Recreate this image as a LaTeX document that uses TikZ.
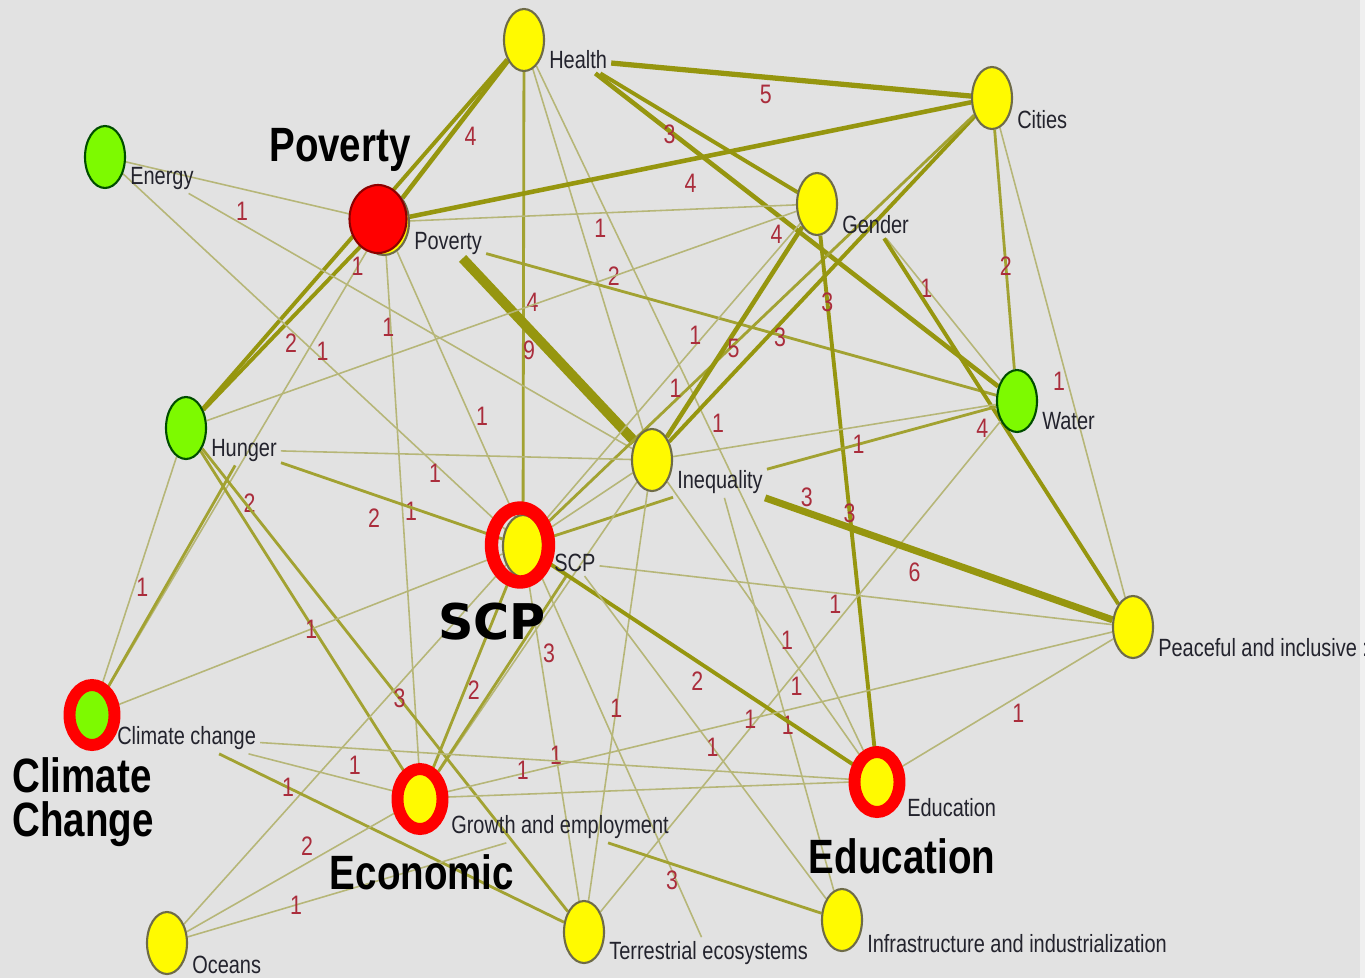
\documentclass[tikz,border=0pt]{standalone}
\usepackage{fontspec}
\setmainfont{Liberation Sans}
\newfontfamily\narrowsans[FakeStretch=0.8]{Liberation Sans}
\newfontfamily\widesans{DejaVu Sans}
\usetikzlibrary{shapes.geometric, positioning}

\definecolor{bgc}{RGB}{226,226,226}
\definecolor{stripc}{RGB}{240,240,240}
\definecolor{cyel}{RGB}{255,250,0}
\definecolor{cgrn}{RGB}{125,250,0}
\definecolor{numc}{RGB}{170,45,60}
\definecolor{tagc}{RGB}{35,35,45}
\definecolor{ethin}{RGB}{182,182,120}
\definecolor{emid}{RGB}{162,162,50}
\definecolor{ethick}{RGB}{150,150,15}

\newcommand{\sdglabelfont}{\narrowsans\fontsize{7.1pt}{8pt}\selectfont}
\newcommand{\sdgnumfont}{\narrowsans\fontsize{7.6pt}{8pt}\selectfont}
\newcommand{\sdgbigfont}{\narrowsans\bfseries\fontsize{13.7pt}{12.4pt}\selectfont}

\pgfdeclarelayer{bg}
\pgfsetlayers{bg,main}

\begin{document}
\begin{tikzpicture}
\tikzset{
  goal/.style={ellipse, draw=yellow!35!black, fill=cyel, line width=0.6pt,
    minimum width=0.40cm, minimum height=0.62cm, inner sep=0pt},
  goalg/.style={goal, draw=green!30!black, fill=cgrn},
  ring/.style={ellipse, draw=red, line width=3.4pt,
    minimum width=0.45cm, minimum height=0.60cm, inner sep=0pt},
  tag/.style={font=\sdglabelfont, text=tagc, inner sep=1pt, anchor=west},
  num/.style={font=\sdgnumfont, text=numc, inner sep=0.5pt},
  bigtag/.style={font=\sdgbigfont, text=black, inner sep=0pt, align=left},
  w1/.style={draw=ethin, line width=0.45pt},
  w2/.style={draw=emid, line width=0.8pt},
  w3/.style={draw=ethick, line width=1.1pt},
  w4/.style={draw=ethick, line width=1.3pt},
  w5/.style={draw=ethick, line width=1.5pt},
  w6/.style={draw=ethick, line width=2.0pt},
  w9/.style={draw=ethick, line width=2.8pt}
}
\useasboundingbox (0,0) rectangle (13.65,-9.78);

% goals
\node (He) [goal] at (5.24,-0.40) {};
\node (Ci) [goal] at (9.92,-0.98) {};
\node (En) [goalg] at (1.05,-1.57) {};
\node (Po) [goal, minimum width=0.50cm, minimum height=0.66cm] at (3.84,-2.22) {};
\node (Ge) [goal] at (8.17,-2.04) {};
\node (Wa) [goalg] at (10.17,-4.01) {};
\node (Hu) [goalg] at (1.86,-4.28) {};
\node (In) [goal] at (6.52,-4.60) {};
\node (SC) [goal] at (5.23,-5.46) {};
\node (Pe) [goal] at (11.33,-6.27) {};
\node (CC) [goalg] at (0.92,-7.15) {};
\node (GE) [goal] at (4.21,-7.98) {};
\node (Ed) [goal] at (8.78,-7.81) {};
\node (Oc) [goal] at (1.67,-9.43) {};
\node (Te) [goal] at (5.84,-9.32) {};
\node (IF) [goal] at (8.42,-9.20) {};

% names
\node (He-t) [tag] at ([yshift=-2.0mm]He.east) {Health};
\node (Ci-t) [tag] at ([yshift=-2.2mm]Ci.east) {Cities};
\node (En-t) [tag] at ([yshift=-2.1mm]En.east) {Energy};
\node (Po-t) [tag] at ([yshift=-2.1mm]Po.east) {Poverty};
\node (Ge-t) [tag] at ([yshift=-2.1mm]Ge.east) {Gender};
\node (Wa-t) [tag] at ([yshift=-2.0mm]Wa.east) {Water};
\node (Hu-t) [tag] at ([yshift=-2.2mm]Hu.east) {Hunger};
\node (In-t) [tag] at ([yshift=-2.2mm]In.east) {Inequality};
\node (SC-t) [tag] at ([shift={(0.06,-0.17)}]SC.east) {SCP};
\node (Pe-t) [tag] at ([yshift=-2.1mm]Pe.east) {Peaceful and inclusive :};
\node (CC-t) [tag] at ([yshift=-2.3mm]CC.east) {Climate change};
\node (GE-t) [tag] at ([shift={(0.05,-0.29)}]GE.east) {Growth and employment};
\node (Ed-t) [tag] at ([shift={(0.04,-0.27)}]Ed.east) {Education};
\node (Oc-t) [tag] at ([yshift=-2.2mm]Oc.east) {Oceans};
\node (Te-t) [tag] at ([yshift=-2.1mm]Te.east) {Terrestrial ecosystems};
\node (IF-t) [tag] at ([yshift=-2.4mm]IF.east) {Infrastructure and industrialization};

% marks
\node (Po-mark) [goal, fill=red, draw=red!55!black, minimum width=0.57cm, minimum height=0.68cm] at (3.78,-2.19) {};
\node (SC-ring) [ring, line width=3.8pt, minimum width=0.57cm, minimum height=0.74cm] at (5.20,-5.45) {};
\node (CC-ring) [ring] at (CC) {};
\node (GE-ring) [ring] at (4.20,-7.99) {};
\node (Ed-ring) [ring] at (8.77,-7.82) {};

\node (Po-big) [bigtag] at ([shift={(-0.38,0.69)}]Po-mark.center) {Poverty};
\node (SC-big) [bigtag, font=\widesans\bfseries\fontsize{14pt}{14pt}\selectfont] at ([shift={(-0.28,-0.77)}]SC-ring.center) {SCP};
\node (CC-big) [bigtag] at ([shift={(-0.09,-0.87)}]CC.center) {Climate\\Change};
\node (GE-big) [bigtag] at ([shift={(0.01,-0.74)}]GE.center) {Economic};
\node (Ed-big) [bigtag] at ([shift={(0.24,-0.75)}]Ed.center) {Education};

\begin{pgfonlayer}{bg}
\fill[bgc] (0,0) rectangle (13.65,-9.78);
\fill[stripc] (13.60,0) rectangle (13.65,-9.78);
% Health
\draw[w5] (He-t) -- node[num, pos=0.43, below=1pt] {5} (Ci);
\draw[w4] (He) -- node[num, pos=0.55, right=3pt] {4} (Po);
\draw[w3] (He) -- (Hu);
\draw[w2] (He) -- node[num, pos=0.52, right=0pt] {4} (SC);
\draw[w1] (He) -- node[num, pos=0.44, right=3pt] {1} (In);
\draw[w1] (He) -- (Ed);
\draw[w4] (He-t) -- node[num, pos=0.45, below=2pt] {4} (Wa);
\draw[w3] (He-t) -- node[num, pos=0.40, below left=0pt] {3} (Ge);
% Poverty
\draw[w4] (Po) -- node[num, pos=0.50, below=3pt] {4} (Ci);
\draw[w1] (Po) -- (Ge);
\draw[w9] (Po-t) -- node[num, pos=0.50, left=2pt] {9} (In);
\draw[w2] (Po-t) -- node[num, pos=0.25, above=0pt] {2} (Wa);
\draw[w3] (Po) -- node[num, pos=0.60, right=4pt] {2} (Hu);
\draw[w1] (Po) -- node[num, pos=0.50, right=0pt] {1} (GE);
\draw[w1] (Po) -- node[num, pos=0.24, right=1pt] {1} (Te-t);
\draw[w1] (Po) -- node[num, pos=0.04] {1} (CC);
% Energy
\draw[w1] (En) -- node[num, pos=0.50, below=3pt] {1} (Po);
\draw[w1] (En-t) -- node[num, pos=0.45, below=2pt] {1} (In);
\draw[w1] (En) -- node[num, pos=0.50, right=0pt] {1} (SC);
% Cities
\draw[w3] (Ci) -- node[num, pos=0.68, right=1pt] {3} (In);
\draw[w2] (Ci) -- node[num, pos=0.66, left=1pt] {1} (SC);
\draw[w2] (Ci) -- node[num, pos=0.57] {2} (Wa);
\draw[w1] (Ci) -- node[num, pos=0.54, left=0pt] {1} (Pe);
% Gender
\draw[w3] (Ge) -- node[num, pos=0.13] {3} node[num, pos=0.54] {3} (Ed);
\draw[w1] (Ge-t) -- node[num, pos=0.35] {1} (Wa);
\draw[w3] (Ge-t) -- node[num, pos=0.52, left=4pt] {4} (Pe);
\draw[w1] (Ge) -- (Hu);
\draw[w1] (Ge) -- node[num, pos=0.37, left=0pt] {1} (SC);
\draw[w4] (Ge) -- node[num, pos=0.58, right=0pt] {5} (In);
% Water, Inequality
\draw[w1] (In) -- node[num, pos=0.14, above=4pt] {1} (Wa);
\draw[w2] (In-t) -- node[num, pos=0.40] {1} (Wa);
\draw[w1] (Wa) -- node[num, pos=0.54, right=1pt] {1} (Te);
\draw[w6] (In-t) -- node[num, pos=0.12, above=0pt] {3} node[num, pos=0.43, below=2pt] {6} (Pe);
\draw[w2] (SC) -- (In-t);
\draw[w1] (SC) -- (In);
\draw[w1] (In) -- node[num, pos=0.57, right=0pt] {1} (Ed);
\draw[w1] (In-t) -- node[num, pos=0.58] {1} (IF);
\draw[w1] (In) -- node[num, pos=0.53] {1} (Te);
\draw[w1] (GE) -- (In);
% Hunger
\draw[w1] (Hu-t) -- node[num, pos=0.44, below=2pt] {1} (In);
\draw[w2] (Hu-t) -- node[num, pos=0.42, below=3pt] {2} (SC);
\draw[w1] (Hu) -- node[num, pos=0.57, right=0pt] {1} (CC);
\draw[w2] (Hu-t) -- (CC);
\draw[w2] (Hu) -- node[num, pos=0.16, right=2pt] {2} (GE);
\draw[w2] (Hu) -- node[num, pos=0.54] {3} (Te);
% SCP
\draw[w1] (CC) -- node[num, pos=0.51] {1} (SC);
\draw[w2] (SC) -- node[num, pos=0.59, right=0pt] {2} (GE);
\draw[w2] (SC-t) -- node[num, pos=0.39, right=7pt] {3} (GE);
\draw[w3] (SC) -- node[num, pos=0.52, below left=0pt] {2} (Ed);
\draw[w1] (SC-t) -- node[num, pos=0.46, below=0pt] {1} (Pe);
\draw[w1] (SC-t) -- node[num, pos=0.53] {1} (IF);
\draw[w1] (SC) -- node[num, pos=0.55] {1} (Te);
\draw[w1] (Oc) -- (SC);
% Peaceful, Education
\draw[w1] (GE) -- node[num, pos=0.46] {1} (Pe);
\draw[w1] (Ed) -- node[num, pos=0.52, below right=0pt] {1} (Pe);
\draw[w1] (GE) -- (Ed);
% Climate change
\draw[w1] (CC-t) -- node[num, pos=0.44, below=0pt] {1} (Ed);
\draw[w1] (CC-t) -- node[num, pos=0.70, above=1pt] {1} (GE);
\draw[w2] (CC-t) -- node[num, pos=0.20] {1} (Te);
% Oceans, Growth
\draw[w1] (Oc) -- node[num, pos=0.60, above left=0pt] {2} (GE);
\draw[w1] (Oc) -- node[num, pos=0.34] {1} (GE-t);
\draw[w2] (GE-t) -- node[num, pos=0.30, below=1pt] {3} (IF);
\end{pgfonlayer}
\end{tikzpicture}
\end{document}
